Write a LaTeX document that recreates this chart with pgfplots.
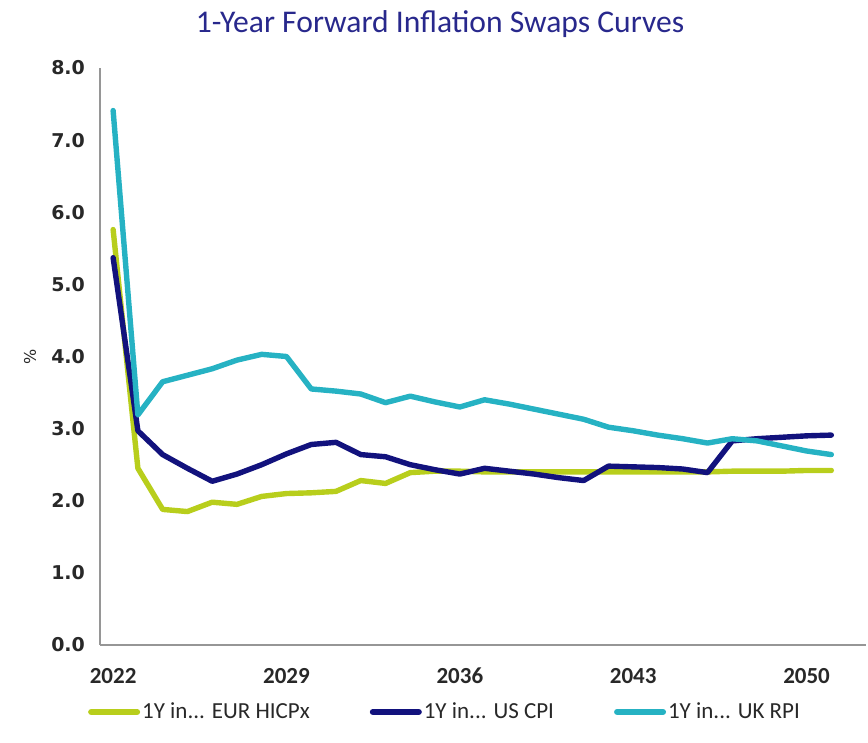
\documentclass[border=0pt]{standalone}
\usepackage{fontspec}
\setmainfont{Carlito}
\newfontfamily\dejavu{DejaVu Sans}
\usepackage{pgfplots}
\pgfplotsset{compat=1.18}
\definecolor{cLime}{RGB}{184,206,28}
\definecolor{cNavy}{RGB}{18,18,125}
\definecolor{cTeal}{RGB}{38,178,195}
\definecolor{cTitle}{RGB}{40,40,140}
\definecolor{cAxis}{RGB}{150,150,150}
\definecolor{cTick}{RGB}{40,40,40}
\begin{document}
\begin{tikzpicture}
\useasboundingbox (-50pt,-49pt) rectangle (384pt,322.5pt);
\begin{axis}[
  at={(0,0)}, anchor=south west,
  scale only axis, width=383pt, height=288.5pt,
  xmin=2021.47, xmax=2052.4,
  ymin=0, ymax=8,
  axis x line=bottom, axis y line=left,
  axis line style={cAxis, line width=0.8pt, -},
  xtick={2022,2029,2036,2043,2050},
  xticklabels={2022,2029,2036,2043,2050},
  ytick={0,1,...,8},
  major tick length=0pt,
  xticklabel style={font=\fontsize{11.5}{12}\selectfont\bfseries, text=cTick, yshift=-8pt},
  yticklabel style={font=\dejavu\fontsize{9.5}{11}\selectfont\bfseries, text=cTick, xshift=-4pt,
    /pgf/number format/.cd, fixed, fixed zerofill, precision=1, assume math mode=true},
  ylabel={\%},
  ylabel style={font=\dejavu\fontsize{8}{9}\selectfont, text=cTick, at={(axis description cs:-0.0914,0.5)}, anchor=center},
  title={1-Year Forward Inflation Swaps Curves},
  title style={font=\fontsize{15.8}{17}\selectfont, text=cTitle, at={(rel axis cs:0.444,1)}, yshift=16pt, anchor=center},
  legend columns=3,
  legend style={at={(rel axis cs:-0.016,-0.116)}, anchor=west, draw=none, fill=none,
    font=\fontsize{11.5}{13}\selectfont, text=cTick,
    /tikz/every even column/.append style={column sep=29pt},
    inner xsep=0pt, nodes={inner xsep=1pt}},
  legend image code/.code={\draw[#1, line width=3pt, line cap=round] (0pt,0pt) -- (23pt,0pt);},
  every axis plot/.append style={line width=2.7pt, line join=round, line cap=round},
]
\addplot[cLime] coordinates {
(2022,5.76) (2023,2.45) (2024,1.88) (2025,1.85) (2026,1.98) (2027,1.95) (2028,2.06) (2029,2.10)
(2030,2.11) (2031,2.13) (2032,2.28) (2033,2.24) (2034,2.39) (2035,2.41) (2036,2.41) (2037,2.40)
(2038,2.40) (2039,2.40) (2040,2.40) (2041,2.40) (2042,2.40) (2043,2.40) (2044,2.40) (2045,2.40)
(2046,2.40) (2047,2.41) (2048,2.41) (2049,2.41) (2050,2.42) (2051,2.42)};
\addlegendentry{1Y in... EUR HICPx}
\addplot[cNavy] coordinates {
(2022,5.37) (2023,2.97) (2024,2.64) (2025,2.45) (2026,2.27) (2027,2.37) (2028,2.50) (2029,2.65)
(2030,2.78) (2031,2.81) (2032,2.64) (2033,2.61) (2034,2.50) (2035,2.43) (2036,2.37) (2037,2.45)
(2038,2.41) (2039,2.37) (2040,2.32) (2041,2.28) (2042,2.48) (2043,2.47) (2044,2.46) (2045,2.44)
(2046,2.39) (2047,2.83) (2048,2.86) (2049,2.88) (2050,2.90) (2051,2.91)};
\addlegendentry{1Y in... US CPI}
\addplot[cTeal] coordinates {
(2022,7.41) (2023,3.19) (2024,3.65) (2025,3.74) (2026,3.83) (2027,3.95) (2028,4.03) (2029,4.00)
(2030,3.55) (2031,3.52) (2032,3.48) (2033,3.36) (2034,3.45) (2035,3.37) (2036,3.30) (2037,3.40)
(2038,3.34) (2039,3.27) (2040,3.20) (2041,3.13) (2042,3.02) (2043,2.97) (2044,2.91) (2045,2.86)
(2046,2.80) (2047,2.86) (2048,2.83) (2049,2.76) (2050,2.69) (2051,2.64)};
\addlegendentry{1Y in... UK RPI}
\end{axis}
\end{tikzpicture}
\end{document}
